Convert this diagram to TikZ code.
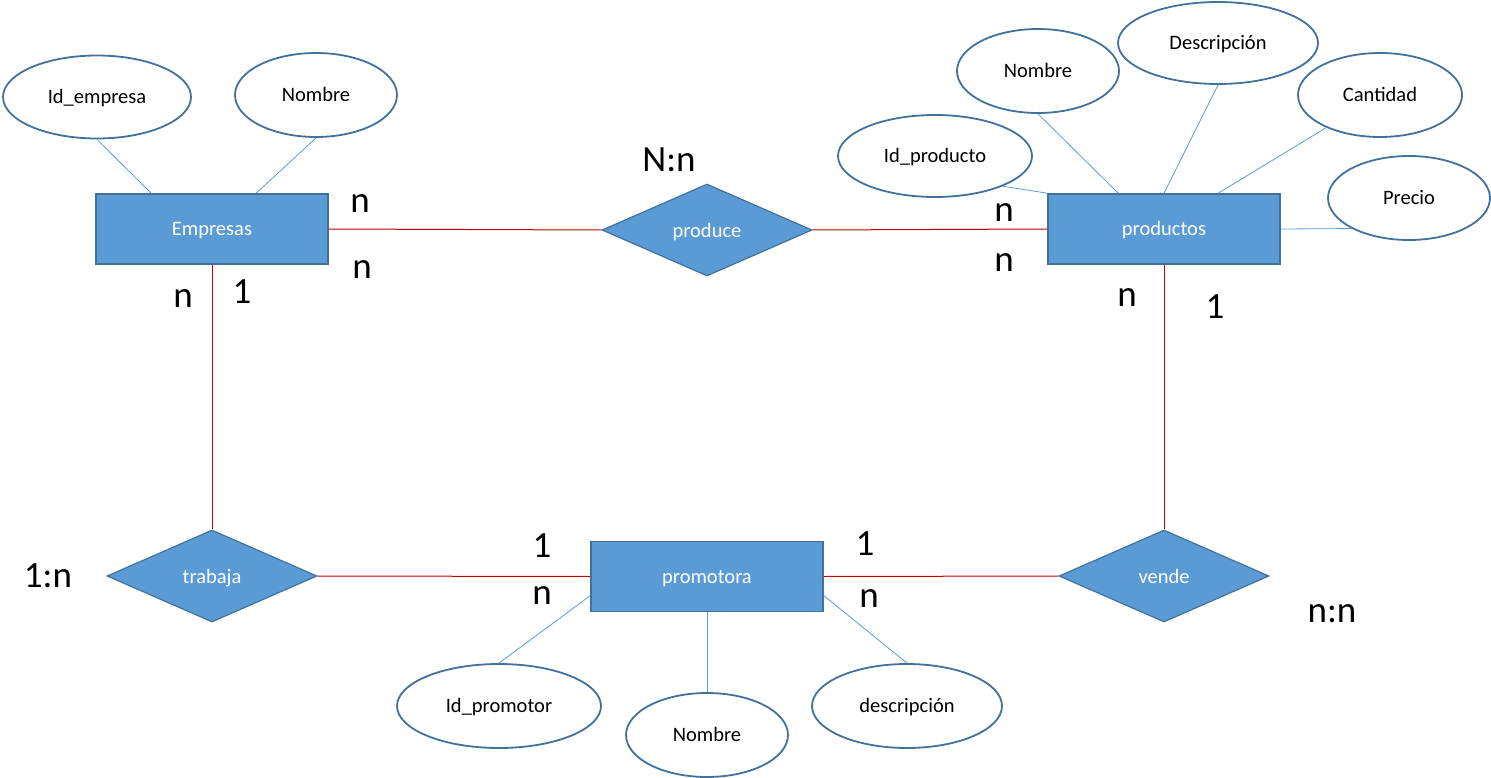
\documentclass[tikz,border=0pt]{standalone}
\usepackage{fontspec}
\setmainfont{Carlito}
\usetikzlibrary{shapes.geometric,calc}
\definecolor{entfill}{HTML}{5B9BD5}
\definecolor{entborder}{HTML}{41719C}
\definecolor{attrline}{HTML}{5B9BD5}
\definecolor{relline}{RGB}{192,0,0}
\begin{document}
\begin{tikzpicture}[x=1pt,y=-1pt,
  entity/.style={draw=entborder,line width=1.6pt,fill=entfill,text=white,
    minimum width=232pt,minimum height=70pt,inner sep=0pt,
    text height=14pt,text depth=0pt,
    font=\fontsize{20.5}{24}\selectfont},
  relship/.style={diamond,draw=entborder,line width=1.2pt,fill=entfill,text=white,
    minimum width=210pt,minimum height=92pt,inner sep=0pt,
    text height=14pt,text depth=0pt,
    font=\fontsize{20.5}{24}\selectfont},
  attrib/.style={ellipse,draw=entborder,line width=1.8pt,fill=white,inner sep=0pt,
    text height=13pt,text depth=0pt,
    font=\fontsize{20.5}{24}\selectfont},
  attrl/.style={draw=attrline,line width=0.8pt},
  rell/.style={draw=relline,line width=1pt},
  card/.style={anchor=base,inner sep=0pt,font=\fontsize{37}{40}\selectfont}]
\useasboundingbox (0,0) rectangle (1491,778);
% entities
\node[entity] (emp) at (212,229) {Empresas};
\node[entity] (prod) at (1164,229) {productos};
\node[entity] (prom) at (707,576.5) {promotora};
% relationships
\node[relship] (produce) at (707,230) {produce};
\node[relship] (trab) at (212,576) {trabaja};
\node[relship] (vende) at (1164,576) {vende};
% attributes Empresas
\node[attrib,minimum width=188pt,minimum height=83pt] (ide) at (97,97) {Id\_empresa};
\node[attrib,minimum width=162pt,minimum height=84pt] (nome) at (316,95) {Nombre};
% attributes productos
\node[attrib,minimum width=194pt,minimum height=82pt] (idp) at (935,156) {Id\_producto};
\node[attrib,minimum width=162pt,minimum height=84pt] (nomp) at (1038,71) {Nombre};
\node[attrib,minimum width=200pt,minimum height=82pt] (desc) at (1218,43) {Descripción};
\node[attrib,minimum width=164pt,minimum height=84pt] (cant) at (1380,95) {Cantidad};
\node[attrib,minimum width=162pt,minimum height=84pt] (prec) at (1409,198) {Precio};
% attributes promotora
\node[attrib,minimum width=204pt,minimum height=84pt] (idpr) at (499,706) {Id\_promotor};
\node[attrib,minimum width=162pt,minimum height=84pt] (nompr) at (707,735) {Nombre};
\node[attrib,minimum width=190pt,minimum height=84pt] (descpr) at (907,706) {descripción};
% attribute connectors
\draw[attrl] (ide.south) -- ($(emp.north west)+(56,0)$);
\draw[attrl] (nome.south) -- ($(emp.north west)+(161,0)$);
\draw[attrl] (idp.-24) -- (prod.north west);
\draw[attrl] (nomp.south) -- ($(prod.north west)+(71,0)$);
\draw[attrl] (desc.south) -- (prod.north);
\draw[attrl] (cant) -- ($(prod.north west)+(171,0)$);
\draw[attrl] (prec.208) -- (prod.east);
\draw[attrl] (idpr.north) -- ($(prom.north west)+(0,55)$);
\draw[attrl] (nompr.north) -- (prom.south);
\draw[attrl] (descpr.north) -- ($(prom.north east)+(0,55)$);
% relationship connectors
\draw[rell] (emp.east) -- (produce.west);
\draw[rell] (produce.east) -- (prod.west);
\draw[rell] (emp.south) -- (trab.north);
\draw[rell] (trab.east) -- (prom.west);
\draw[rell] (prom.east) -- (vende.west);
\draw[rell] (prod.south) -- (vende.north);
% cardinalities
\node[card] (c1) at (669,172) {N:n};
\node[card] (c2) at (360,213) {n};
\node[card] (c3) at (362,278) {n};
\node[card] (c4) at (183,307) {n};
\node[card] (c5) at (242,303) {1};
\node[card] (c6) at (1004,222) {n};
\node[card] (c7) at (1004,271) {n};
\node[card] (c8) at (1127,306) {n};
\node[card] (c9) at (1215,318) {1};
\node[card] (c10) at (48,587) {1:n};
\node[card] (c11) at (542,557) {1};
\node[card] (c12) at (542,604) {n};
\node[card] (c13) at (865,555) {1};
\node[card] (c14) at (869,607) {n};
\node[card] (c15) at (1332,622) {n:n};
\end{tikzpicture}
\end{document}
